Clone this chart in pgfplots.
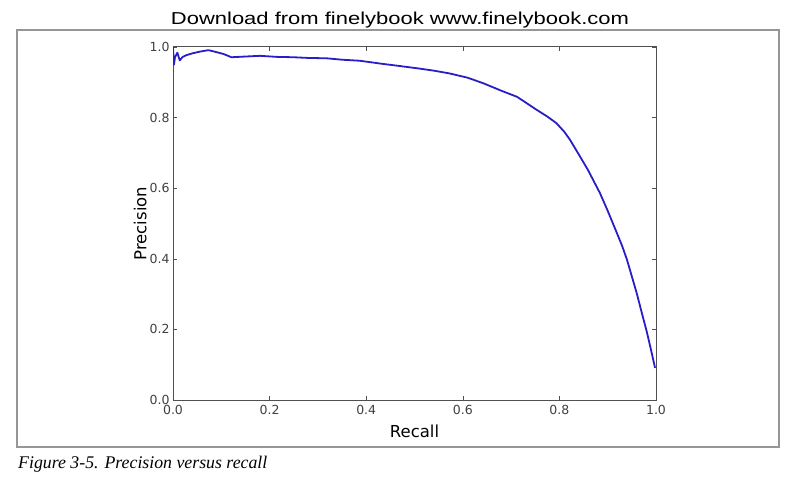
\documentclass[border=0pt]{standalone}
\usepackage{fontspec}
\setmainfont{DejaVu Sans}
\newfontfamily\captionfont{Liberation Serif}
\newfontfamily\headfont{Liberation Sans}
\usepackage{pgfplots}
\pgfplotsset{compat=1.18}

\definecolor{curve}{RGB}{40,30,200}
\definecolor{frame}{RGB}{150,150,150}
\definecolor{axisgray}{RGB}{80,80,80}

\begin{document}
\begin{tikzpicture}[x=1pt,y=1pt]
\path[use as bounding box] (0,0) rectangle (800,488);
\draw[frame, line width=1.2pt] (17,41) rectangle (779,458);
\node at (400,468) {\resizebox{458pt}{12.5pt}{\headfont Download from finelybook www.finelybook.com}};
\node[anchor=west, inner sep=0pt] at (18,24) {\fontsize{17.8}{20}\selectfont\captionfont\itshape Figure 3-5. Precision versus recall};

\begin{axis}[
    at={(173pt,88pt)}, anchor=origin,
    scale only axis,
    width=483pt, height=353pt,
    xmin=0, xmax=1, ymin=0, ymax=1,
    xtick={0,0.2,...,1}, ytick={0,0.2,...,1},
    /pgf/number format/.cd, fixed, fixed zerofill, precision=1, assume math mode=true,
    /pgfplots/.cd,
    tick label style={font=\fontsize{12.5}{14}\selectfont, text=black!75},
    xticklabel style={yshift=-2pt},
    label style={font=\fontsize{16.5}{19}\selectfont},
    xlabel={Recall}, ylabel={Precision},
    xlabel style={yshift=-3pt},
    ylabel style={yshift=-4pt},
    axis line style={axisgray, line width=1pt},
    tick style={axisgray, line width=0.6pt},
    major tick length=4pt,
    tick pos=both,
    tick align=inside,
]
\addplot[curve, line width=1.8pt, line join=round] coordinates {
(0,1.0) (0.002,0.95) (0.004,0.97) (0.009,0.984) (0.014,0.962) (0.02,0.972)
(0.028,0.977) (0.04,0.982) (0.056,0.987) (0.073,0.991) (0.08,0.989)
(0.094,0.984) (0.105,0.98) (0.121,0.971) (0.15,0.973) (0.18,0.975)
(0.215,0.972) (0.249,0.971) (0.28,0.969) (0.318,0.968) (0.35,0.964)
(0.387,0.961) (0.435,0.952) (0.47,0.946) (0.504,0.940) (0.54,0.933)
(0.573,0.925) (0.61,0.913) (0.643,0.897) (0.68,0.876) (0.712,0.859)
(0.73,0.843) (0.753,0.822) (0.775,0.803) (0.794,0.784) (0.81,0.76)
(0.822,0.737) (0.833,0.712) (0.843,0.689) (0.859,0.652) (0.87,0.623)
(0.884,0.586) (0.90,0.536) (0.919,0.473) (0.93,0.436) (0.94,0.397)
(0.95,0.35) (0.96,0.303) (0.97,0.25) (0.981,0.193) (0.99,0.14)
(0.998,0.091)
};
\end{axis}
\end{tikzpicture}
\end{document}
